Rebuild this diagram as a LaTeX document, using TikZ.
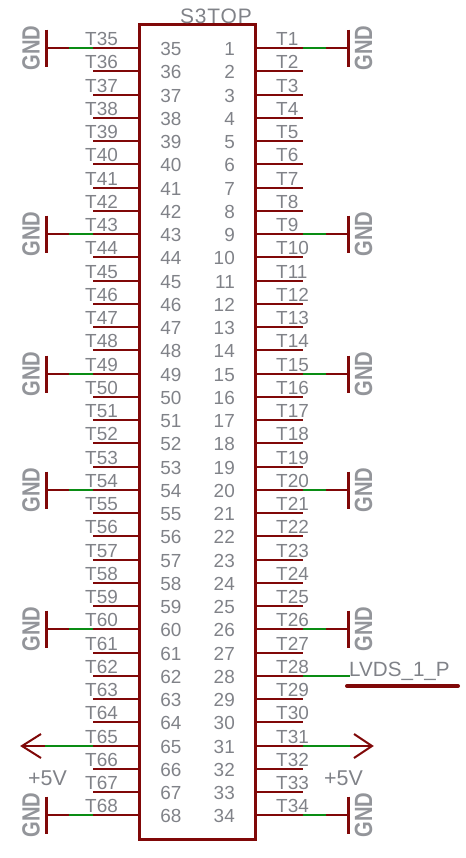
\documentclass[tikz,border=0pt]{standalone}
\usepackage{fontspec}
\setmainfont{Liberation Sans}
\usetikzlibrary{calc,positioning}
\definecolor{PinRed}{RGB}{128,8,8}
\definecolor{NetGreen}{RGB}{10,140,20}
\definecolor{LabelGray}{RGB}{128,130,136}
\tikzset{
  pinwire/.style={PinRed,line width=1.9bp},
  netwire/.style={NetGreen,line width=1.9bp},
  railbar/.style={PinRed,line width=3bp},
  chevron/.style={PinRed,line width=2bp},
  pinlabel/.style={LabelGray,inner sep=0pt,font=\fontsize{19}{19}\selectfont},
  netlabel/.style={LabelGray,inner sep=0pt,font=\fontsize{21.5}{21.5}\selectfont},
  gndlabel/.style={LabelGray!85!white,inner sep=0pt,rotate=90,font=\bfseries\fontsize{25}{25}\selectfont},
}
\begin{document}
\begin{tikzpicture}[x=1bp,y=-1bp]
  \useasboundingbox (0,0) rectangle (466,858);
  \node[draw=PinRed,line width=3bp,inner sep=0pt,outer sep=0pt,minimum width=115.5bp,minimum height=814bp] (chip) at (197.5,432) {};
  \node[pinlabel,anchor=base west,font=\fontsize{21}{21}\selectfont] (title) at (180,23) {\addfontfeature{LetterSpace=4}S3TOP};
  % pins of both columns
  \foreach \i in {0,...,33}{
    \pgfmathtruncatemacro\ln{35+\i}
    \pgfmathtruncatemacro\rn{1+\i}
    \pgfmathsetmacro\yy{round(48.2+23.25*\i)}
    \coordinate (L\ln) at (139.5,\yy);
    \coordinate (l\ln) at (93,\yy);
    \coordinate (R\rn) at (255,\yy);
    \coordinate (r\rn) at (303,\yy);
    \draw[pinwire] (L\ln)--(l\ln);
    \draw[pinwire] (R\rn)--(r\rn);
    \node[pinlabel,anchor=base west] (tl\ln) at (85,\yy-3) {T\ln};
    \node[pinlabel,anchor=base west] (tr\rn) at (276,\yy-3) {T\rn};
    \node[pinlabel,anchor=base] (nl\ln) at (171,\yy+7) {\ln};
    \node[pinlabel,anchor=base east] (nr\rn) at (235,\yy+7) {\rn};
  }
  % ground symbols
  \foreach \n in {35,43,49,54,60,68}{
    \coordinate (gl\n) at (46,0 |- L\n);
    \coordinate (ga\n) at (69,0 |- L\n);
    \draw[pinwire] (l\n)--(gl\n);
    \draw[netwire] (ga\n)--(l\n);
    \draw[railbar] ($(gl\n)+(0,-18.5)$)--($(gl\n)+(0,18.5)$);
    \node[gndlabel] (gndl\n) at ($(gl\n)+(-15,0)$) {\scalebox{0.81}[1]{GND}};
  }
  \foreach \n in {1,9,15,20,26,34}{
    \coordinate (gr\n) at (348,0 |- R\n);
    \coordinate (ga\n) at (326,0 |- R\n);
    \draw[pinwire] (r\n)--(gr\n);
    \draw[netwire] (r\n)--(ga\n);
    \draw[railbar] ($(gr\n)+(0,-18.5)$)--($(gr\n)+(0,18.5)$);
    \node[gndlabel] (gndr\n) at ($(gr\n)+(15.5,0)$) {\scalebox{0.81}[1]{GND}};
  }
  % +5V on both sides
  \coordinate (tipl) at (22,0 |- L65);
  \coordinate (netl) at (45,0 |- L65);
  \coordinate (tipr) at (372,0 |- R31);
  \coordinate (netr) at (350,0 |- R31);
  \draw[pinwire] (tipl)--(l65);
  \draw[netwire] (netl)--(l65);
  \draw[pinwire] (r31)--(tipr);
  \draw[netwire] (r31)--(netr);
  \draw[chevron] ($(tipl)+(19,-12)$)--(tipl)--($(tipl)+(19,12)$);
  \draw[chevron] ($(tipr)+(-18,-12)$)--(tipr)--($(tipr)+(-18,12)$);
  \node[netlabel,anchor=base west] (pwrl) at (28,785) {+5V};
  \node[netlabel,anchor=base west] (pwrr) at (324,785) {+5V};
  % LVDS net
  \coordinate (netlvds) at (350,0 |- R28);
  \draw[netwire] (r28)--(netlvds);
  \node[pinlabel,anchor=base west,font=\fontsize{20.7}{20.7}\selectfont] (lvds) at (349,676) {LVDS\_1\_P};
  \draw[PinRed,line width=4bp,line cap=round] (347,686)--(458,686);
\end{tikzpicture}
\end{document}
